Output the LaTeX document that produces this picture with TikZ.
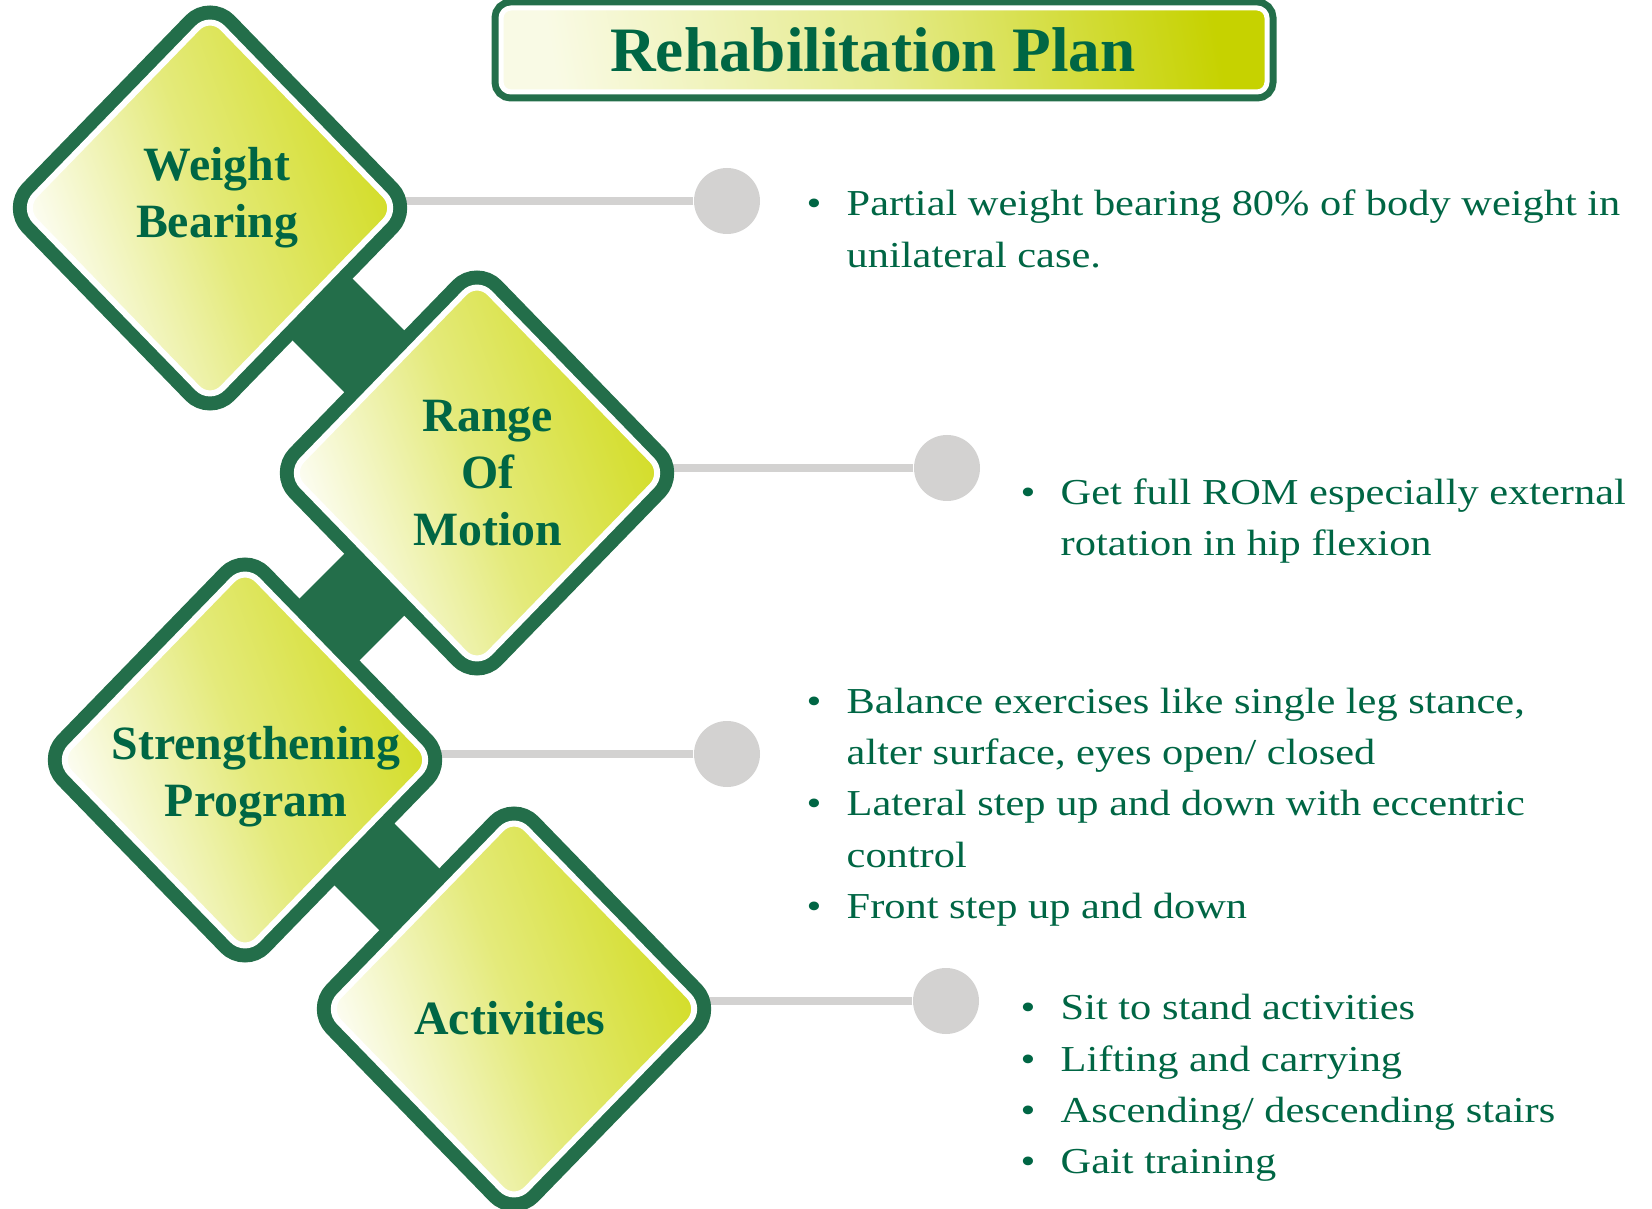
\documentclass[tikz,border=0pt]{standalone}
\usepackage{fontspec}
\setmainfont{Liberation Serif}
\newfontfamily\bodyfont[FakeStretch=1.16]{Liberation Serif}
\usetikzlibrary{shapes.geometric,backgrounds}

\definecolor{dkgreen}{RGB}{35,110,74}
\definecolor{txtgreen}{RGB}{0,102,68}
\definecolor{ygreen}{RGB}{210,220,34}
\definecolor{tgreen}{RGB}{198,210,0}
\definecolor{dotgray}{RGB}{211,210,209}

\newcommand{\bul}{\makebox[4mm][l]{\textbullet}}
\newcommand{\hang}{\hspace*{4mm}}

\begin{document}
\begin{tikzpicture}[
    x=0.1mm, y=0.1mm,
    stepdia/.style={diamond, minimum width=37.5mm, minimum height=38.6mm, inner sep=0pt, outer sep=0pt,
        rounded corners=1.8mm, draw=white, line width=0.6mm,
        left color=white, right color=ygreen, middle color=ygreen!60!white, shading angle=110,
        preaction={draw=dkgreen, line width=3.4mm}},
    titlebox/.style={rectangle, rounded corners=1mm, minimum width=76.6mm, minimum height=8.4mm,
        inner sep=0pt, draw=white, line width=0.5mm,
        left color=tgreen!10!white, right color=tgreen, middle color=tgreen!45!white, shading angle=100,
        preaction={draw=dkgreen, line width=1.9mm},
        font=\bfseries\fontsize{18}{21.6}\selectfont, text=txtgreen},
    dlabel/.style={font=\bfseries\fontsize{13.6}{16.2}\selectfont, text=txtgreen, align=center, inner sep=0pt},
    items/.style={anchor=west, align=left, inner sep=0pt, text=txtgreen,
        font=\bodyfont\fontsize{10.4}{14.6}\selectfont},
    dot/.style={circle, fill=dotgray, minimum size=6.6mm, inner sep=0pt},
    link/.style={draw=dkgreen, line width=8.6mm},
    spoke/.style={draw=dotgray, line width=0.8mm}
]
    \useasboundingbox (0,0) rectangle (1652,-1209);

    % Title
    \node[titlebox] (title) at (884,-50) {Rehabilitation Plan\hspace*{2.2mm}};

    % Steps
    \node[stepdia] (wb)  at (210,-208) {};
    \node[stepdia] (rom) at (477,-473) {};
    \node[stepdia] (str) at (245,-760) {};
    \node[stepdia] (act) at (514,-1009) {};

    \node[dlabel] (wbText)  at (217,-198) {Weight\\Bearing};
    \node[dlabel] (romText) at (488,-473) {Range\\Of\\Motion};
    \node[dlabel] (strText) at (256,-777) {Strengthening\\Program};
    \node[dlabel] (actText) at (510,-1018) {Activities};

    % Dots
    \node[dot] (wbDot)  at (727,-201) {};
    \node[dot] (romDot) at (947,-468) {};
    \node[dot] (strDot) at (727,-754) {};
    \node[dot] (actDot) at (946,-1001) {};

    % Bullet texts
    \node[items] (wbList) at (806,-229)
        {\bul Partial weight bearing 80\% of body weight in\\
         \hang unilateral case.};
    \node[items] (romList) at (1020,-521)
        {\bul Get full ROM especially external\\
         \hang rotation in hip flexion};
    \node[items] (strList) at (806,-807)
        {\bul Balance exercises like single leg stance,\\
         \hang alter surface, eyes open/ closed\\
         \bul Lateral step up and down with eccentric\\
         \hang control\\
         \bul Front step up and down};
    \node[items] (actList) at (1020,-1088)
        {\bul Sit to stand activities\\
         \bul Lifting and carrying\\
         \bul Ascending/ descending stairs\\
         \bul Gait training};

    % Links between steps and spokes to the dots
    \coordinate (j12) at (347,-334);
    \coordinate (j23) at (353,-606);
    \coordinate (j34) at (386,-876);
    \begin{scope}[on background layer]
        \draw[link] (j12) ++(135:70) -- ++(-45:140);
        \draw[link] (j23) ++(225:70) -- ++(45:140);
        \draw[link] (j34) ++(135:70) -- ++(-45:140);
        \draw[spoke] (wbDot) -- (wbDot -| wb.center);
        \draw[spoke] (romDot) -- (romDot -| rom.center);
        \draw[spoke] (strDot) -- (strDot -| str.center);
        \draw[spoke] (actDot) -- (actDot -| act.center);
    \end{scope}
\end{tikzpicture}
\end{document}
